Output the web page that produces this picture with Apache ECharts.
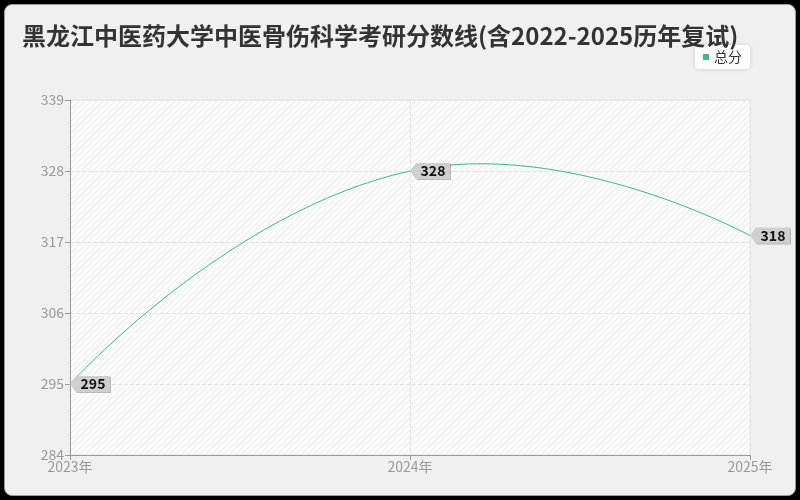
<!DOCTYPE html>
<html>
<head>
<meta charset="utf-8">
<script src="https://cdn.jsdelivr.net/npm/echarts@6/dist/echarts.min.js"></script>
<style>
  html, body { margin: 0; padding: 0; background: #000; }
  #frame { position: absolute; left: 4px; top: 4px; width: 790px; height: 490px;
           background: #f0f0f0; border: 1px solid #9a9a9a; border-radius: 8px; }
  #main { position: absolute; left: 0; top: 0; width: 800px; height: 500px; }
</style>
</head>
<body>
<div id="frame"></div>
<div id="main"></div>
<script>
// 年份和总分
var years = ['2023年', '2024年', '2025年']
var scores = [295, 328, 318]
var seriesName = '总分'
var titleText = '黑龙江中医药大学中医骨伤科学考研分数线(含2022-2025历年复试)'
var lineColor = '#3cb88a'
var smoothness = 0.5

// 斜线底纹
function makeHatch() {
    var c = document.createElement('canvas')
    c.width = 6
    c.height = 6
    var ctx = c.getContext('2d')
    ctx.fillStyle = '#fbfbfb'
    ctx.fillRect(0, 0, 6, 6)
    ctx.strokeStyle = 'rgba(0,0,0,0.06)'
    ctx.lineWidth = 1
    ctx.beginPath()
    ctx.moveTo(0, 6)
    ctx.lineTo(6, 0)
    ctx.moveTo(-1, 1)
    ctx.lineTo(1, -1)
    ctx.moveTo(5, 7)
    ctx.lineTo(7, 5)
    ctx.stroke()
    return c
}

// 平滑曲线（不做极值约束，曲线可以越过峰值）
function renderSmooth(params, api) {
    if (params.dataIndex !== 0) return null
    var pts = []
    for (var i = 0; i < scores.length; i++) {
        pts.push(api.coord([i, scores[i]]))
    }
    var last = pts.length - 1
    var cps = pts.map(function (p, i) {
        if (i === 0 || i === last) {
            return { before: p, after: p }
        }
        var prev = pts[i - 1]
        var next = pts[i + 1]
        var vx = next[0] - prev[0]
        var vy = next[1] - prev[1]
        var lp = Math.hypot(p[0] - prev[0], p[1] - prev[1])
        var ln = Math.hypot(next[0] - p[0], next[1] - p[1])
        var r = ln / (lp + ln)
        return {
            before: [p[0] - vx * smoothness * (1 - r), p[1] - vy * smoothness * (1 - r)],
            after: [p[0] + vx * smoothness * r, p[1] + vy * smoothness * r]
        }
    })
    var children = []
    for (var j = 0; j < last; j++) {
        children.push({
            type: 'bezierCurve',
            shape: {
                x1: pts[j][0], y1: pts[j][1],
                x2: pts[j + 1][0], y2: pts[j + 1][1],
                cpx1: cps[j].after[0], cpy1: cps[j].after[1],
                cpx2: cps[j + 1].before[0], cpy2: cps[j + 1].before[1]
            },
            style: { stroke: lineColor, fill: null, lineWidth: 1 }
        })
    }
    return { type: 'group', children: children }
}

var chart = echarts.init(document.getElementById('main'), null, { renderer: 'canvas' })

var tagPath = 'path://M0,8 L6,0 L40,0 L40,16 L6,16 Z'

var option = {
    backgroundColor: 'transparent',
    textStyle: { fontFamily: '"Noto Sans CJK SC", "Noto Sans", sans-serif' },
    title: {
        text: titleText,
        left: 17,
        top: 19,
        textStyle: { fontSize: 24, fontWeight: 'bold', color: '#333' }
    },
    legend: {
        data: [seriesName],
        right: 50,
        top: 45,
        icon: 'rect',
        itemWidth: 6,
        itemHeight: 6,
        itemGap: 4,
        backgroundColor: '#fff',
        borderRadius: 4,
        padding: [5, 8],
        shadowColor: 'rgba(0,0,0,0.15)',
        shadowBlur: 4,
        textStyle: { fontSize: 14, color: '#333' }
    },
    grid: {
        left: 70,
        right: 50,
        top: 100,
        bottom: 45,
        show: true,
        borderColor: '#e6e6e6',
        borderWidth: 1,
        backgroundColor: { image: makeHatch(), repeat: 'repeat' }
    },
    xAxis: {
        type: 'category',
        boundaryGap: false,
        data: years,
        axisLine: { show: true, lineStyle: { color: '#999' } },
        axisTick: { show: true, lineStyle: { color: '#999' } },
        axisLabel: { color: '#999', fontSize: 14, margin: 5 },
        splitLine: { show: true, lineStyle: { type: 'dashed', color: '#e3e3e3' } }
    },
    yAxis: {
        type: 'value',
        min: 284,
        max: 339,
        interval: 11,
        axisLine: { show: true, lineStyle: { color: '#999' } },
        axisTick: { show: true, lineStyle: { color: '#999' } },
        axisLabel: { color: '#999', fontSize: 14, margin: 6 },
        splitLine: { show: true, lineStyle: { type: 'dashed', color: '#e3e3e3' } }
    },
    series: [{
        name: seriesName,
        type: 'line',
        data: scores.map(function (v) {
            return { value: v, itemStyle: { color: '#cfcfcf', shadowColor: 'rgba(0,0,0,0.25)', shadowOffsetX: 1, shadowOffsetY: 1 } }
        }),
        symbol: tagPath,
        symbolSize: [40, 16],
        symbolOffset: [20, 0],
        itemStyle: { color: lineColor },
        lineStyle: { color: lineColor, width: 0, opacity: 0 },
        label: {
            show: true,
            position: 'inside',
            offset: [3, 0],
            color: '#111',
            fontSize: 14,
            fontWeight: 'bold'
        },
        emphasis: { disabled: true },
        z: 4
    }, {
        name: seriesName + '曲线',
        type: 'custom',
        renderItem: renderSmooth,
        data: scores.map(function (v, i) { return [i, v] }),
        silent: true,
        z: 3
    }]
}

chart.setOption(option)
</script>
</body>
</html>
